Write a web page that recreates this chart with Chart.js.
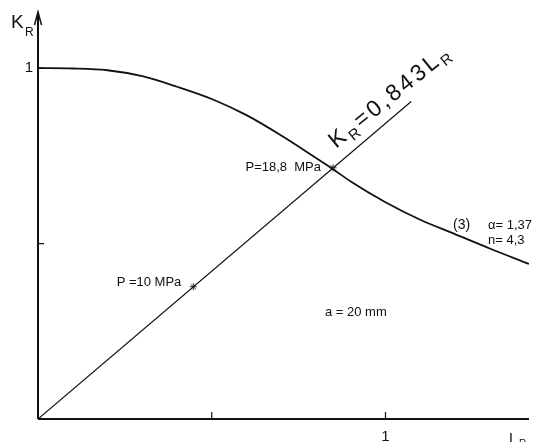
<!DOCTYPE html>
<html><head><meta charset="utf-8">
<script src="https://cdn.jsdelivr.net/npm/chart.js@4"></script>
<style>html,body{margin:0;padding:0;background:#fff;overflow:hidden}#wrap{width:534px;height:442px;position:relative}</style>
</head><body><div id="wrap"><canvas id="c"></canvas></div>
<script>
// K_R vs L_R failure assessment curve
const curveL = [0, 0.1, 0.2, 0.3, 0.4, 0.5, 0.6, 0.7, 0.8, 0.849, 0.9, 1.0, 1.1, 1.2, 1.3, 1.413];
const curveK = [1.0, 0.999, 0.994, 0.977, 0.947, 0.912, 0.866, 0.808, 0.744, 0.712, 0.677, 0.618, 0.568, 0.527, 0.486, 0.442];
// load line K_R = 0.843 L_R
const lineL = [0, 1.074];
const lineK = [0, 0.905];
// marked pressure points
const pointL = [0.447, 0.849];
const pointK = [0.377, 0.716];
const pointLabels = ['P =10 MPa', 'P=18,8  MPa'];
// ticks
const xTicks = [0.5, 1];
const xTickLabels = ['', '1'];
const yTicks = [0.5, 1];
const yTickLabels = ['', '1'];
const xMax = 1.413, yMax = 1.16;

const FONT = '"Liberation Sans", Arial, sans-serif';

const decor = {
  id: 'decor',
  afterDatasetsDraw(chart) {
    const ctx = chart.ctx, xs = chart.scales.x, ys = chart.scales.y;
    const X = v => xs.getPixelForValue(v), Y = v => ys.getPixelForValue(v);
    const x0 = X(0), y0 = Y(0);
    ctx.save();
    ctx.strokeStyle = '#111'; ctx.fillStyle = '#111';
    // axes
    ctx.lineWidth = 2;
    ctx.beginPath();
    ctx.moveTo(x0, y0); ctx.lineTo(x0, Y(yMax));
    ctx.moveTo(x0, y0); ctx.lineTo(X(xMax), y0);
    ctx.stroke();
    // arrowhead on y axis
    ctx.lineWidth = 1.5;
    ctx.beginPath();
    ctx.moveTo(x0 - 3.5, Y(yMax) + 13); ctx.lineTo(x0, Y(yMax)); ctx.lineTo(x0 + 3.5, Y(yMax) + 13);
    ctx.stroke();
    // ticks
    ctx.lineWidth = 1.2;
    ctx.beginPath();
    xTicks.forEach(t => { ctx.moveTo(X(t), y0); ctx.lineTo(X(t), y0 - 7); });
    yTicks.forEach(t => { ctx.moveTo(x0, Y(t)); ctx.lineTo(x0 + 6, Y(t)); });
    ctx.stroke();
    // tick labels
    ctx.font = '15px ' + FONT;
    ctx.textAlign = 'center'; ctx.textBaseline = 'middle';
    xTicks.forEach((t, i) => { if (xTickLabels[i]) ctx.fillText(xTickLabels[i], X(t), y0 + 18); });
    ctx.textAlign = 'right';
    yTicks.forEach((t, i) => { if (yTickLabels[i]) ctx.fillText(yTickLabels[i], x0 - 5, Y(t)); });
    // axis titles
    ctx.textAlign = 'left'; ctx.textBaseline = 'alphabetic';
    ctx.font = '19px ' + FONT;
    ctx.fillText('K', 11, 28);
    ctx.font = '12px ' + FONT;
    ctx.fillText('R', 25, 36);
    ctx.font = '15px ' + FONT;
    ctx.fillText('L', X(xMax) - 20, y0 + 24);
    ctx.font = '10px ' + FONT;
    ctx.fillText('R', X(xMax) - 10, y0 + 28);
    // point labels
    ctx.font = '13px ' + FONT;
    ctx.textAlign = 'right'; ctx.textBaseline = 'middle';
    ctx.fillText(pointLabels[0], X(pointL[0]) - 12, Y(pointK[0]) - 4);
    ctx.fillText(pointLabels[1], X(pointL[1]) - 12, Y(pointK[1]));
    // curve annotations
    ctx.textAlign = 'left';
    ctx.font = '14px ' + FONT;
    ctx.fillText('(3)', 453, 225);
    ctx.font = '13px ' + FONT;
    ctx.fillText('\u03b1= 1,37', 488, 225);
    ctx.fillText('n= 4,3', 488, 240);
    ctx.fillText('a = 20 mm', 325, 312);
    // rotated line label
    ctx.save();
    ctx.translate(336, 149);
    ctx.rotate(-39 * Math.PI / 180);
    ctx.textBaseline = 'alphabetic';
    const parts = [['K', 23, 0], ['R', 15, 5], ['=0,843L', 23, 0], ['R', 15, 5]];
    let cx = 0;
    parts.forEach(([s, sz, dy]) => {
      ctx.font = sz + 'px ' + FONT;
      for (const ch of s) { ctx.fillText(ch, cx, dy); cx += ctx.measureText(ch).width + 3; }
    });
    ctx.restore();
    ctx.restore();
  }
};

new Chart(document.getElementById('c'), {
  type: 'scatter',
  data: {
    datasets: [
      { data: curveL.map((l, i) => ({ x: l, y: curveK[i] })), showLine: true, borderColor: '#111', borderWidth: 1.8,
        pointRadius: 0, cubicInterpolationMode: 'monotone', fill: false },
      { data: lineL.map((l, i) => ({ x: l, y: lineK[i] })), showLine: true, borderColor: '#111', borderWidth: 1.2,
        pointRadius: 0, fill: false },
      { data: pointL.map((l, i) => ({ x: l, y: pointK[i] })), showLine: false, pointStyle: 'star', pointRadius: 3.5,
        borderColor: '#333', borderWidth: 1, backgroundColor: '#fff' }
    ]
  },
  options: {
    responsive: true, maintainAspectRatio: false, animation: false,
    layout: { padding: { left: 38, top: 12, right: 0, bottom: 23 } },
    plugins: { legend: { display: false }, tooltip: { enabled: false } },
    scales: {
      x: { type: 'linear', min: 0, max: xMax, display: false },
      y: { type: 'linear', min: 0, max: yMax, display: false }
    }
  },
  plugins: [decor]
});
</script></body></html>
